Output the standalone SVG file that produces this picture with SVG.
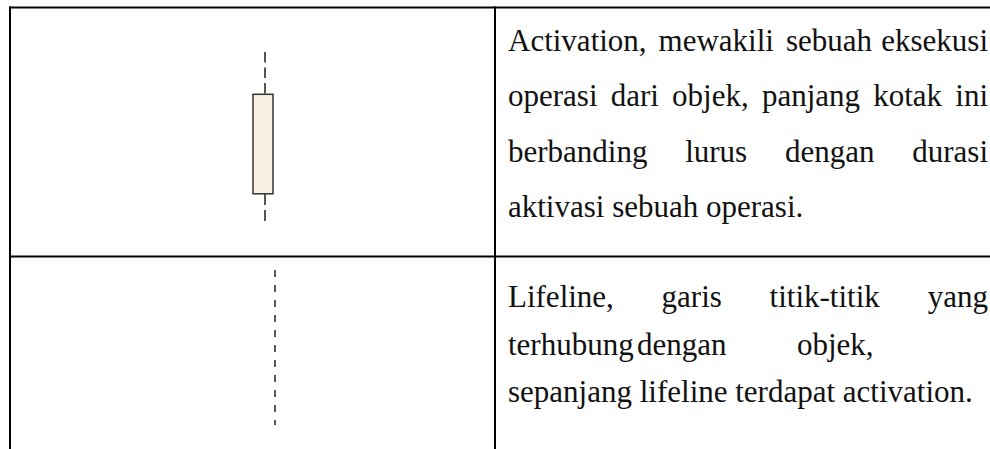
<svg xmlns="http://www.w3.org/2000/svg" width="990" height="449" viewBox="0 0 990 449">
<style>
.grid{stroke:#000;stroke-width:2;fill:none}
text{font-family:'Liberation Serif','Times New Roman',serif;font-size:31px;fill:#111}
.e{text-anchor:end}
</style>
<rect width="990" height="449" fill="#fff"/>
<g id="table">
<line class="grid" x1="9" y1="7.5" x2="990" y2="7.5"/>
<line class="grid" x1="9" y1="256.5" x2="990" y2="256.5"/>
<line class="grid" x1="10" y1="6.5" x2="10" y2="449"/>
<line class="grid" x1="495" y1="6.5" x2="495" y2="449"/>
</g>
<g id="activation">
<line x1="265" y1="52" x2="265" y2="94" stroke="#444" stroke-width="1.8" stroke-dasharray="10.5 5"/>
<line x1="265" y1="194" x2="265" y2="224" stroke="#444" stroke-width="1.8" stroke-dasharray="11 5"/>
<rect x="253" y="94.3" width="20" height="99.5" fill="#FAF0E2" stroke="#333" stroke-width="1.5"/>
</g>
<g id="lifeline">
<line x1="275" y1="270" x2="275" y2="425" stroke="#111" stroke-width="1.4" stroke-dasharray="7 8"/>
</g>
<g id="desc1">
<text x="508" y="50.5">Activation,</text>
<text x="658.6" y="50.5">mewakili</text>
<text x="786" y="50.5">sebuah</text>
<text class="e" x="988" y="50.5">eksekusi</text>
<text x="508" y="106">operasi</text>
<text x="610.7" y="106">dari</text>
<text x="672.1" y="106">objek,</text>
<text x="761.9" y="106">panjang</text>
<text x="873.2" y="106">kotak</text>
<text class="e" x="988" y="106">ini</text>
<text x="508" y="161.7">berbanding</text>
<text x="685.2" y="161.7">lurus</text>
<text x="784.9" y="161.7">dengan</text>
<text class="e" x="988" y="161.7">durasi</text>
<text x="508" y="217.4">aktivasi sebuah operasi.</text>
</g>
<g id="desc2">
<text x="508" y="306.5">Lifeline,</text>
<text x="661.6" y="306.5">garis</text>
<text x="769.6" y="306.5">titik-titik</text>
<text class="e" x="988" y="306.5">yang</text>
<text x="508" y="355">terhubung</text>
<text x="637" y="355">dengan</text>
<text x="797" y="355">objek,</text>
<text x="508" y="402">sepanjang lifeline terdapat activation.</text>
</g>
</svg>
